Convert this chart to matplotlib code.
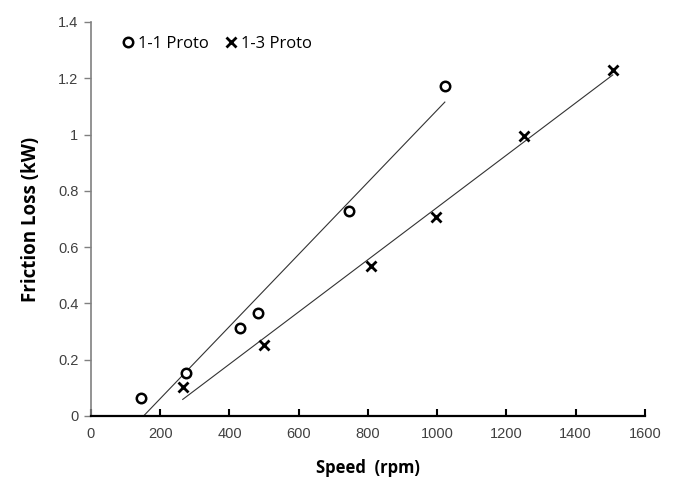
import numpy as np
import matplotlib
matplotlib.use("Agg")
import matplotlib.pyplot as plt

series_names = ["1-1 Proto", "1-3 Proto"]
speed_11 = [144, 273, 430, 483, 744, 1022]
loss_11 = [0.065, 0.154, 0.314, 0.367, 0.728, 1.173]
speed_13 = [265, 500, 808, 995, 1250, 1507]
loss_13 = [0.104, 0.252, 0.533, 0.707, 0.995, 1.230]
x_ticks = [0, 200, 400, 600, 800, 1000, 1200, 1400, 1600]
y_ticks = [0, 0.2, 0.4, 0.6, 0.8, 1.0, 1.2, 1.4]
y_tick_labels = ["0", "0.2", "0.4", "0.6", "0.8", "1", "1.2", "1.4"]

plt.rcParams['font.family'] = ['Liberation Sans', 'DejaVu Sans']

fig = plt.figure(figsize=(6.8, 4.94), dpi=100)
ax = fig.add_axes([0.1338, 0.1579, 0.8147, 0.7976])

# trendlines
for xs, ys in [(speed_11, loss_11), (speed_13, loss_13)]:
    k, b = np.polyfit(xs, ys, 1)
    xx = np.array([min(xs), max(xs)])
    ax.plot(xx, k * xx + b, color='#333333', lw=0.8, zorder=2)

ax.plot(speed_11, loss_11, linestyle='none', marker='o', ms=6.8, mfc='white',
        mec='black', mew=1.8, label=series_names[0], zorder=3)
ax.plot(speed_13, loss_13, linestyle='none', marker='x', ms=6.5,
        mec='black', mew=2.0, label=series_names[1], zorder=3)

ax.set_xlim(0, 1600)
ax.set_ylim(0, 1.4)
ax.set_xticks(x_ticks)
ax.set_xticklabels([str(v) for v in x_ticks])
ax.set_yticks(y_ticks)
ax.set_yticklabels(y_tick_labels)

for s in ['top', 'right']:
    ax.spines[s].set_visible(False)
ax.spines['left'].set_color('#808080')
ax.spines['left'].set_linewidth(1.2)
ax.spines['bottom'].set_color('black')
ax.spines['bottom'].set_linewidth(1.6)

ax.tick_params(axis='x', direction='in', length=5, width=1.5, colors='black',
               labelcolor='#404040', labelsize=10.5, pad=8)
ax.tick_params(axis='y', direction='out', length=5, width=1.0, colors='#808080',
               labelcolor='#404040', labelsize=10.5, pad=4)

ax.set_xlabel("Speed  (rpm)", fontsize=12, fontweight='bold', family=['Open Sans', 'DejaVu Sans'], labelpad=13)
ax.set_ylabel("Friction Loss (kW)", fontsize=13.5, fontweight='bold', family=['Open Sans', 'DejaVu Sans'], labelpad=12)

leg = ax.legend(loc='upper left', bbox_to_anchor=(0.043, 0.981), ncol=2, frameon=False,
                handlelength=0.8, handletextpad=0.2, columnspacing=0.93,
                prop={'family': ['Open Sans', 'DejaVu Sans'], 'size': 12},
                borderaxespad=0.0)

fig.savefig("out.png", dpi=100)
